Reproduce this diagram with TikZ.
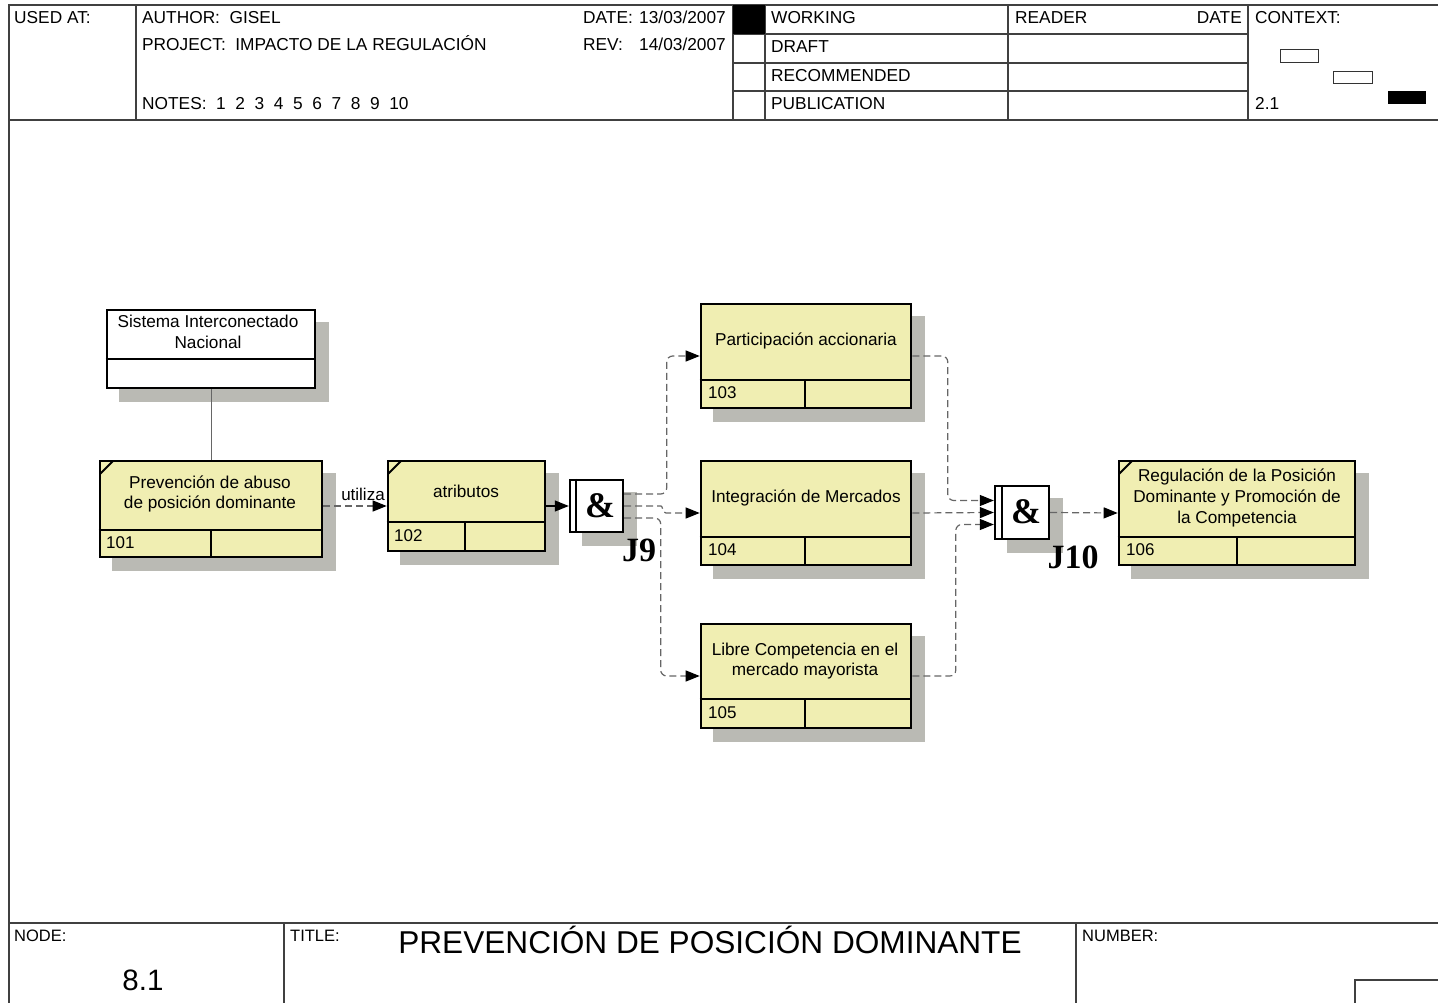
\documentclass[tikz,border=0pt]{standalone}
\usepackage{fontspec}
\setmainfont{Liberation Sans}
\newfontfamily\serifb{Liberation Serif}
\usetikzlibrary{arrows.meta,calc,backgrounds}
\definecolor{boxyellow}{RGB}{240,238,178}
\definecolor{shadowgray}{RGB}{186,186,180}
\begin{document}
\begin{tikzpicture}[x=1pt,y=-1pt,
  frame/.style={draw=black!75, line width=1.3pt},
  ybox/.style={draw=black, line width=2.6pt, fill=boxyellow, inner sep=0pt},
  wbox/.style={draw=black, line width=2.6pt, fill=white, inner sep=0pt},
  divline/.style={line width=2.6pt},
  btext/.style={font=\fontsize{17.2}{20.8}\selectfont, align=center, inner sep=0pt},
  ntext/.style={font=\fontsize{17}{19}\selectfont, anchor=west, inner sep=0pt},
  hdr/.style={font=\fontsize{17.3}{20}\selectfont, anchor=base west, inner sep=0pt},
  ftr/.style={font=\fontsize{16.5}{18}\selectfont, anchor=base west, inner sep=0pt},
  flow/.style={draw=black!60, line width=1.2pt, dash pattern=on 7pt off 4pt, rounded corners=6pt,
     -{Triangle[length=14pt,width=11pt,color=black]}},
  shadowfill/.style={fill=shadowgray},
  junc/.style={draw=black, line width=2.4pt, fill=white, inner sep=0pt},
  amp/.style={font=\serifb\bfseries\fontsize{36}{36}\selectfont, inner sep=0pt},
  jlabel/.style={font=\serifb\bfseries\fontsize{34}{34}\selectfont, inner sep=0pt},
  cornermark/.style={line width=2pt}
]
\useasboundingbox (0,0) rectangle (1438,1003);

% ---------- header ----------
\draw[frame] (9,1003) -- (9,5) -- (1438,5);
\draw[frame] (9,120) -- (1438,120);
\foreach \xx in {136,733,765,1008,1248} \draw[frame] (\xx,5) -- (\xx,120);
\foreach \yy in {34,63,91} \draw[frame] (733,\yy) -- (1248,\yy);
\fill (733,5) rectangle (765,34);

\node[hdr] (usedat) at (14,24) {USED AT:};
\node[hdr] (author) at (142,24) {AUTHOR:\ \ GISEL};
\node[hdr] (project) at (142,51) {PROJECT:\ \ IMPACTO DE LA REGULACIÓN};
\node[hdr] (notes) at (142,110) {NOTES:\ \ 1\ \ 2\ \ 3\ \ 4\ \ 5\ \ 6\ \ 7\ \ 8\ \ 9\ \ 10};
\node[hdr] (datelbl) at (583,24) {DATE:};
\node[hdr, anchor=base east] (dateval) at (726,24) {13/03/2007};
\node[hdr] (revlbl) at (583,51) {REV:};
\node[hdr, anchor=base east] (revval) at (726,51) {14/03/2007};
\node[hdr] (working) at (771,24) {WORKING};
\node[hdr] (draft) at (771,53) {DRAFT};
\node[hdr] (recommended) at (771,82) {RECOMMENDED};
\node[hdr] (publication) at (771,110) {PUBLICATION};
\node[hdr] (reader) at (1015,24) {READER};
\node[hdr, anchor=base east] (rdate) at (1242,24) {DATE};
\node[hdr] (context) at (1255,24) {CONTEXT:};
\node[hdr] (ctxnum) at (1255,110) {2.1};
\draw[line width=1pt, black!80] (1280,50) rectangle (1318,63);
\draw[line width=1pt, black!80] (1333,72) rectangle (1372,84);
\fill (1388,91) rectangle (1426,104);

% ---------- footer ----------
\draw[frame] (9,923) -- (1438,923);
\draw[frame] (284,923) -- (284,1003);
\draw[frame] (1076,923) -- (1076,1003);
\draw[frame] (1355,1003) -- (1355,980) -- (1438,980);
\node[ftr] (nodelbl) at (14,941) {NODE:};
\node[ftr] (titlelbl) at (290,941) {TITLE:};
\node[ftr] (numberlbl) at (1082,941) {NUMBER:};
\node[font=\fontsize{29.5}{32}\selectfont, anchor=base, inner sep=0pt] (nodenum) at (143,990) {8.1};
\node[font=\fontsize{31.6}{34}\selectfont, anchor=base, inner sep=0pt] (title) at (710,953) {PREVENCIÓN DE POSICIÓN DOMINANTE};

% ---------- boxes ----------
\node[wbox, minimum width=208pt, minimum height=78pt] (sin) at (211,349) {};
\node[ybox, minimum width=222pt, minimum height=96pt] (b101) at (211,509) {};
\node[ybox, minimum width=157pt, minimum height=90pt] (b102) at (466.5,506) {};
\node[ybox, minimum width=210pt, minimum height=104pt] (b103) at (806,356) {};
\node[ybox, minimum width=210pt, minimum height=104pt] (b104) at (806,513) {};
\node[ybox, minimum width=210pt, minimum height=104pt] (b105) at (806,676) {};
\node[ybox, minimum width=236pt, minimum height=104pt] (b106) at (1237,513) {};
\node[junc, minimum width=53pt, minimum height=52pt] (j9) at (596.5,506) {};
\node[junc, minimum width=54pt, minimum height=53pt] (j10) at (1022,512.5) {};

% shadows
\begin{scope}[on background layer]
\foreach \bx in {sin,b101,b102,b103,b104,b105,b106,j9,j10}
  \fill[shadowfill] ($(\bx.south west)+(13,13)$) rectangle ($(\bx.north east)+(13,13)$);
\end{scope}

% dividers
\draw[divline] (sin.west |- 0,359) -- (sin.east |- 0,359);
\draw[divline] (b101.west |- 0,530) -- (b101.east |- 0,530);
\draw[divline] (211,530) -- (211,557);
\draw[divline] (b102.west |- 0,522) -- (b102.east |- 0,522);
\draw[divline] (465,522) -- (465,551);
\draw[divline] (b103.west |- 0,380) -- (b103.east |- 0,380);
\draw[divline] (805,380) -- (805,408);
\draw[divline] (b104.west |- 0,537) -- (b104.east |- 0,537);
\draw[divline] (805,537) -- (805,565);
\draw[divline] (b105.west |- 0,699) -- (b105.east |- 0,699);
\draw[divline] (805,699) -- (805,728);
\draw[divline] (b106.west |- 0,537) -- (b106.east |- 0,537);
\draw[divline] (1237,537) -- (1237,565);
\draw[line width=2pt] ($(j9.north west)+(7,0)$) -- ($(j9.south west)+(7,0)$);
\draw[line width=2pt] ($(j10.north west)+(8,0)$) -- ($(j10.south west)+(8,0)$);

% corner marks
\draw[cornermark] (100,474) -- (113,461);
\draw[cornermark] (388,474) -- (401,461);
\draw[cornermark] (1119,474) -- (1132,461);

% texts
\node[btext] (tsin) at (208,332) {Sistema Interconectado\\Nacional};
\node[btext] (t101) at (210,494) {Prevención de abuso\\de posición dominante};
\node[btext] (t102) at (466,491) {atributos};
\node[btext] (t103) at (806,341) {Participación accionaria};
\node[btext] (t104) at (806,498) {Integración de Mercados};
\node[btext] (t105) at (805,661) {Libre Competencia en el\\mercado mayorista};
\node[btext] (t106) at (1237,498) {Regulación de la Posición\\Dominante y Promoción de\\la Competencia};
\node[ntext] (n101) at (106,543) {101};
\node[ntext] (n102) at (394,536) {102};
\node[ntext] (n103) at (708,393) {103};
\node[ntext] (n104) at (708,550) {104};
\node[ntext] (n105) at (708,713) {105};
\node[ntext] (n106) at (1126,550) {106};

\node[amp] (amp9) at (600,506) {\&};
\node[amp] (amp10) at (1026,512) {\&};
\node[jlabel] (lj9) at (639,550) {J9};
\node[jlabel] (lj10) at (1073,557) {J10};

% ---------- connectors ----------
\draw[line width=1pt, black!60] (sin.south) -- (b101.north);
\draw[flow] (b101.east |- b102.west) -- (b102.west);
\node[font=\fontsize{17}{19}\selectfont, inner sep=0pt] (utiliza) at (363,494) {utiliza};
\draw[line width=1.2pt, -{Triangle[length=14pt,width=11pt]}] (b102.east) -- (j9.west);

\draw[flow] ($(j9.east)+(0,-12)$) -| ($(b103.west)+(-33,0)$) -- (b103.west);
\draw[flow] (j9.east) -- (655,506) .. controls (663,506) and (662,513) .. (672,513) -- (b104.west);
\draw[flow] ($(j9.east)+(0,12)$) -| ($(b105.west)+(-39,0)$) -- (b105.west);

\draw[flow] (b103.east) -| ($(j10.west)+(-46,-12)$) -- ($(j10.west)+(0,-12)$);
\draw[flow] (b104.east) -- (j10.west);
\draw[flow] (b105.east) -| ($(j10.west)+(-38,12)$) -- ($(j10.west)+(0,12)$);
\draw[flow] (j10.east) -- (b106.west);
\end{tikzpicture}
\end{document}
